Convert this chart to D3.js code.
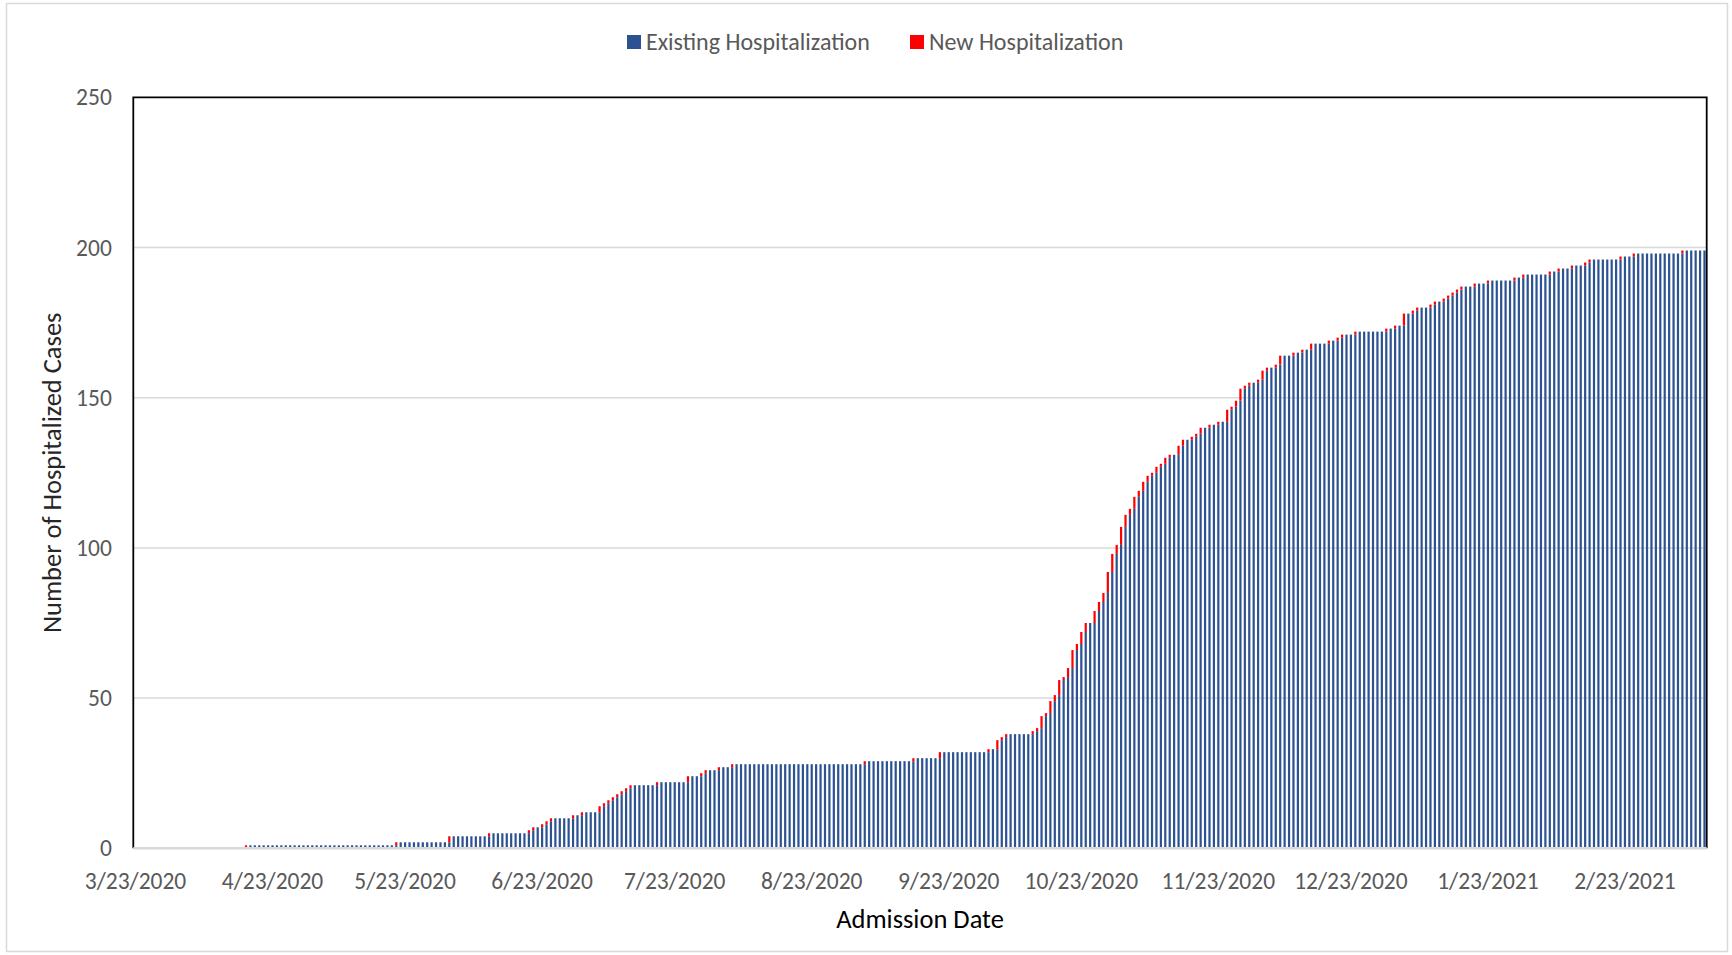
<!DOCTYPE html>
<html>
<head>
<meta charset="utf-8">
<script src="https://cdn.jsdelivr.net/npm/d3@7"></script>
<style>
  html, body { margin: 0; padding: 0; background: #fff; }
  svg { display: block; font-family: Carlito, Calibri, Lato, "Open Sans", sans-serif; }
</style>
</head>
<body>
<svg id="chart" width="1732" height="955"></svg>
<script>
// ---------------- DATA ----------------
const startDate = "2020-03-23";           // first category (one bar per day)
const seriesNames = ["Existing Hospitalization", "New Hospitalization"];
const seriesColors = ["#2C5291", "#FF0000"];
const tickLabels = ["3/23/2020", "4/23/2020", "5/23/2020", "6/23/2020", "7/23/2020", "8/23/2020",
                    "9/23/2020", "10/23/2020", "11/23/2020", "12/23/2020", "1/23/2021", "2/23/2021"];
const yTicks = [0, 50, 100, 150, 200, 250];
const xTitle = "Admission Date";
const yTitle = "Number of Hospitalized Cases";

// Existing hospitalizations per day (one line per month, groups of 5 days)
const existingCases = [
  0,0,0,0,0,  0,0,0,0,                                                   // Mar 23-31 2020 (9)
  0,0,0,0,0,  0,0,0,0,0,  0,0,0,0,0,  0,0,1,1,1,  1,1,1,1,1,  1,1,1,1,1, // Apr (30)
  1,1,1,1,1,  1,1,1,1,1,  1,1,1,1,1,  1,1,1,1,1,  1,2,2,2,2,  2,2,2,2,2,  2, // May (31)
  2,2,4,4,4,  4,4,4,4,4,  4,5,5,5,5,  5,5,5,5,5,  6,7,7,8,9,  10,10,10,10,10, // Jun (30)
  11,11,12,12,12,  12,14,15,16,17,  18,19,20,21,21,  21,21,21,21,22,  22,22,22,22,22,  22,24,24,24,25,  26, // Jul (31)
  26,26,27,27,27,  28,28,28,28,28,  28,28,28,28,28,  28,28,28,28,28,  28,28,28,28,28,  28,28,28,28,28,  28, // Aug (31)
  28,28,28,28,29,  29,29,29,29,29,  29,29,29,29,29,  30,30,30,30,30,  30,32,32,32,32,  32,32,32,32,32,     // Sep (30)
  32,32,33,33,36,  37,38,38,38,38,  38,38,39,40,44,  45,49,51,56,57,  60,66,68,72,75,  75,79,82,85,92,  98, // Oct (31)
  101,107,111,113,117,  119,122,124,125,127,  128,130,131,131,134,  136,136,137,138,140,  140,141,141,142,142,  146,147,149,153,154, // Nov (30)
  155,155,156,159,160,  160,161,164,164,164,  165,165,166,166,168,  168,168,168,169,169,  170,171,171,171,172,  172,172,172,172,172,  172, // Dec (31)
  173,173,174,174,178,  178,179,180,180,180,  181,182,182,183,184,  185,186,187,187,187,  188,188,188,189,189,  189,189,189,189,190,  190, // Jan 2021 (31)
  191,191,191,191,191,  191,192,192,193,193,  193,194,194,194,195,  196,196,196,196,196,  196,196,197,197,197,  198,198,198, // Feb (28)
  198,198,198,198,198,  198,198,198,199,199,  199,199,199                // Mar 1-13 2021 (13)
];

// New hospitalizations per day (one line per month, groups of 5 days)
const newCases = [
  0,0,0,0,0,  0,0,0,0,                                                   // Mar 23-31 2020
  0,0,0,0,0,  0,0,0,0,0,  0,0,0,0,0,  0,1,0,0,0,  0,0,0,0,0,  0,0,0,0,0, // Apr
  0,0,0,0,0,  0,0,0,0,0,  0,0,0,0,0,  0,0,0,0,0,  1,0,0,0,0,  0,0,0,0,0,  0, // May
  0,2,0,0,0,  0,0,0,0,0,  1,0,0,0,0,  0,0,0,0,1,  1,0,1,1,1,  0,0,0,0,1, // Jun
  0,1,0,0,0,  2,1,1,1,1,  1,1,1,0,0,  0,0,0,1,0,  0,0,0,0,0,  2,0,0,1,1,  0, // Jul
  0,1,0,0,1,  0,0,0,0,0,  0,0,0,0,0,  0,0,0,0,0,  0,0,0,0,0,  0,0,0,0,0,  0, // Aug
  0,0,0,1,0,  0,0,0,0,0,  0,0,0,0,1,  0,0,0,0,0,  2,0,0,0,0,  0,0,0,0,0, // Sep
  0,1,0,3,1,  1,0,0,0,0,  0,1,1,4,1,  4,2,5,1,3,  6,2,4,3,0,  4,3,3,7,6,  3, // Oct
  6,4,2,4,2,  3,2,1,2,1,  2,1,0,3,2,  0,1,1,2,0,  1,0,1,0,4,  1,2,4,1,1, // Nov
  0,1,3,1,0,  1,3,0,0,1,  0,1,0,2,0,  0,0,1,0,1,  1,0,0,1,0,  0,0,0,0,0,  1, // Dec
  0,1,0,4,0,  1,1,0,0,1,  1,0,1,1,1,  1,1,0,0,1,  0,0,1,0,0,  0,0,0,1,0,  1, // Jan 2021
  0,0,0,0,0,  1,0,1,0,0,  1,0,0,1,1,  0,0,0,0,0,  0,1,0,0,1,  0,0,0,     // Feb
  0,0,0,0,0,  0,0,1,0,0,  0,0,0                                          // Mar 1-13 2021
];

// sanity check on the transcription (throws if arrays are misaligned)
if (existingCases.length !== newCases.length) {
  throw new Error("length mismatch " + existingCases.length + " vs " + newCases.length);
}
for (let i = 0; i + 1 < existingCases.length; i++) {
  if (existingCases[i] + newCases[i] !== existingCases[i + 1]) {
    throw new Error("continuity break at index " + i);
  }
}

// ---------------- CHART ----------------
const FONT = "Carlito, Calibri, Lato, 'Open Sans', sans-serif";
const plot = { left: 133.3, right: 1706.7, top: 97.3, bottom: 848.3 };
const fmt = d3.timeFormat("%-m/%-d/%Y");
const start = d3.timeParse("%Y-%m-%d")(startDate);
const rows = existingCases.map((v, i) => ({
  key: fmt(d3.timeDay.offset(start, i)),
  existing: v,
  added: newCases[i]
}));

const svg = d3.select("#chart");

// outer chart border
svg.append("rect")
  .attr("x", 6.5).attr("y", 3.5).attr("width", 1721).attr("height", 948)
  .attr("fill", "#fff").attr("stroke", "#d9d9d9").attr("stroke-width", 1.5);

const x = d3.scaleBand()
  .domain(rows.map(d => d.key))
  .range([plot.left, plot.right])
  .paddingInner(0.5).paddingOuter(0.25);

const y = d3.scaleLinear().domain([0, 250]).range([plot.bottom, plot.top]);

// gridlines
svg.append("g").selectAll("line")
  .data(yTicks.filter(t => t > 0 && t < 250))
  .join("line")
  .attr("x1", plot.left).attr("x2", plot.right)
  .attr("y1", d => y(d)).attr("y2", d => y(d))
  .attr("stroke", "#d9d9d9").attr("stroke-width", 1.5);

// stacked bars
const layers = d3.stack().keys(["existing", "added"])(rows);
svg.append("g").selectAll("g")
  .data(layers)
  .join("g")
  .attr("fill", (d, i) => seriesColors[i])
  .selectAll("rect")
  .data(d => d.filter(s => s[1] - s[0] > 0))
  .join("rect")
  .attr("x", d => x(d.data.key))
  .attr("width", x.bandwidth())
  .attr("y", d => y(d[1]))
  .attr("height", d => y(d[0]) - y(d[1]));

// plot-area frame (left, top, right) and gray category axis line
svg.append("path")
  .attr("d", `M${plot.left},${plot.bottom}V${plot.top}H${plot.right}V${plot.bottom}`)
  .attr("fill", "none").attr("stroke", "#000").attr("stroke-width", 1.8);
svg.append("line")
  .attr("x1", plot.left).attr("x2", plot.right)
  .attr("y1", plot.bottom).attr("y2", plot.bottom)
  .attr("stroke", "#d9d9d9").attr("stroke-width", 2.5);

// x axis
const xAxis = svg.append("g")
  .attr("transform", `translate(0,${plot.bottom})`)
  .call(d3.axisBottom(x).tickValues(tickLabels).tickSize(0).tickPadding(24.5));
xAxis.select(".domain").remove();
xAxis.selectAll("text")
  .attr("font-size", 23.5).attr("fill", "#595959").attr("font-family", FONT);

// y axis
const yAxis = svg.append("g")
  .attr("transform", `translate(${plot.left},0)`)
  .call(d3.axisLeft(y).tickValues(yTicks).tickSize(0).tickPadding(21.5));
yAxis.select(".domain").remove();
yAxis.selectAll("text")
  .attr("font-size", 23.5).attr("fill", "#595959").attr("font-family", FONT);

// axis titles
svg.append("text")
  .attr("x", (plot.left + plot.right) / 2).attr("y", 919)
  .attr("dy", "0.35em").attr("text-anchor", "middle")
  .attr("font-size", 26.5).attr("fill", "#000")
  .text(xTitle);
svg.append("text")
  .attr("transform", `translate(52,${(plot.top + plot.bottom) / 2}) rotate(-90)`)
  .attr("dy", "0.35em").attr("text-anchor", "middle")
  .attr("font-size", 26.5).attr("fill", "#262626")
  .text(yTitle);

// legend
const legendX = [627, 910];
const lg = svg.append("g").selectAll("g")
  .data(seriesNames)
  .join("g")
  .attr("transform", (d, i) => `translate(${legendX[i]},42)`);
lg.append("rect")
  .attr("x", 0).attr("y", -7).attr("width", 14).attr("height", 14)
  .attr("fill", (d, i) => seriesColors[i]);
lg.append("text")
  .attr("x", 19).attr("dy", "0.35em")
  .attr("font-size", 24).attr("fill", "#595959")
  .text(d => d);
</script>
</body>
</html>
